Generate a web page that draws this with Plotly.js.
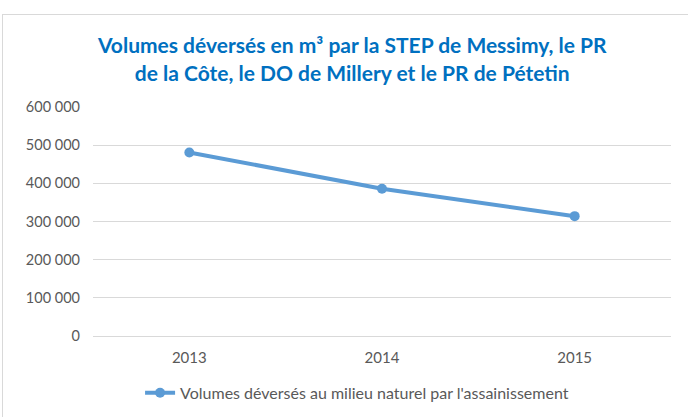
<!DOCTYPE html>
<html>
<head>
<meta charset="utf-8">
<script src="https://cdn.plot.ly/plotly-3.0.1.min.js"></script>
<style>
html,body{margin:0;padding:0;background:#fff;}
#frame{position:absolute;left:2px;top:14px;width:700px;height:420px;border-top:1px solid #d9d9d9;border-left:1px solid #d9d9d9;}
#chart{position:absolute;left:0;top:0;width:688px;height:417px;}
</style>
</head>
<body>
<div id="frame"></div>
<div id="chart"></div>
<script>
const years = ['2013', '2014', '2015'];
const volumes = [481000, 386000, 314000];
const seriesName = "Volumes déversés au milieu naturel par l'assainissement";
const titleText = 'Volumes déversés en m³ par la STEP de Messimy, le PR<br>de la Côte, le DO de Millery et le PR de Pétetin';

const trace = {
  x: years, y: volumes, type: 'scatter', mode: 'lines+markers', name: seriesName,
  line: {color: '#5B9BD5', width: 4},
  marker: {color: '#5B9BD5', size: 10}
};

const layout = {
  width: 688, height: 417,
  paper_bgcolor: 'rgba(0,0,0,0)', plot_bgcolor: 'rgba(0,0,0,0)',
  margin: {l: 93, r: 17, t: 107, b: 81},
  separators: ', ',
  font: {family: 'Lato, Carlito, sans-serif', size: 14, color: '#595959'},
  title: {
    text: titleText, x: 0.512, xanchor: 'center', y: 0.872, yanchor: 'top',
    font: {family: 'Lato, sans-serif', size: 21, color: '#0070C0', weight: 'bold'}
  },
  xaxis: {type: 'category', range: [-0.5, 2.5], showgrid: false, showline: false, ticks: '', zeroline: false,
          automargin: false, tickfont: {size: 15, color: '#595959'}, ticklabelstandoff: 11},
  yaxis: {range: [0, 600000], dtick: 100000, tickformat: ',d', showgrid: true, automargin: false,
          gridcolor: '#d9d9d9', gridwidth: 1, zeroline: true, zerolinecolor: '#d9d9d9',
          ticks: '', showline: false, tickfont: {size: 14.5, color: '#595959'}, ticklabelstandoff: 12},
  showlegend: true,
  legend: {orientation: 'h', xref: 'container', yref: 'container', x: 0.519, xanchor: 'center',
           y: 0.058, yanchor: 'middle', font: {size: 16, color: '#595959'}}
};

Plotly.newPlot('chart', [trace], layout, {displayModeBar: false});
</script>
</body>
</html>
